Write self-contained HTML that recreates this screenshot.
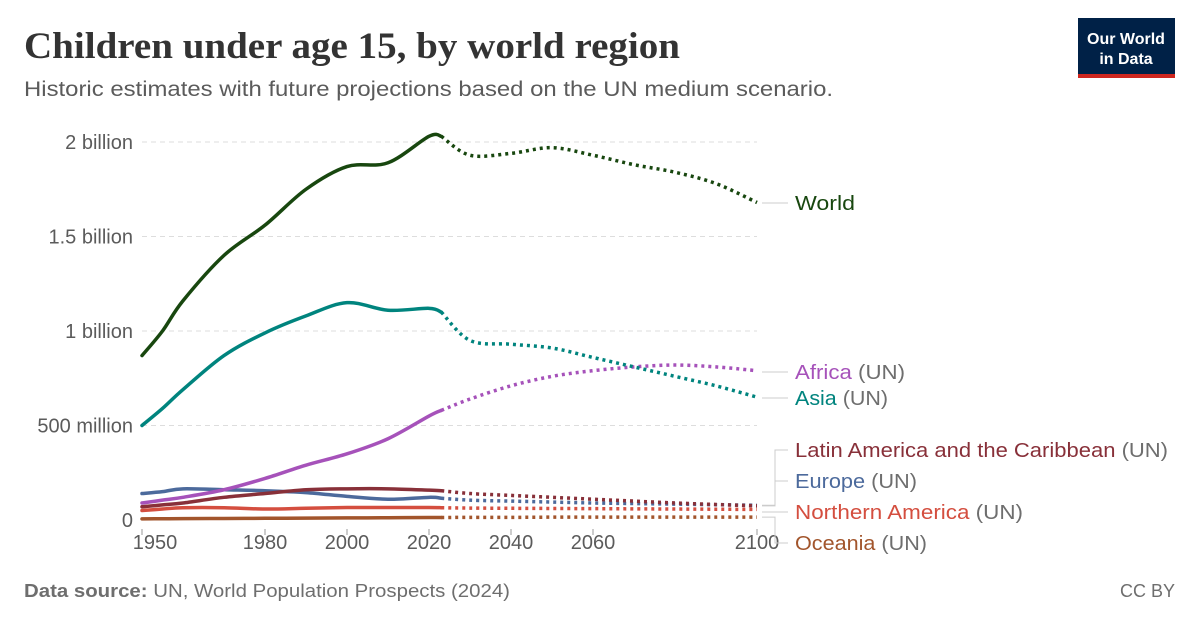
<!DOCTYPE html>
<html><head><meta charset="utf-8"><style>
body{margin:0;background:#fff;width:1200px;height:627px;overflow:hidden;font-family:"Liberation Sans",sans-serif}
svg{display:block}
</style></head><body>
<svg id="chart" width="1200" height="627">
<text x="24" y="58" font-family="Liberation Serif,serif" font-size="37" fill="#333" font-weight="bold" textLength="656" lengthAdjust="spacingAndGlyphs">Children under age 15, by world region</text>
<text x="24" y="96" font-size="21" fill="#5b5b5b" textLength="809" lengthAdjust="spacingAndGlyphs">Historic estimates with future projections based on the UN medium scenario.</text>
<g>
<rect x="1078" y="18" width="97" height="57" fill="#002147"/>
<rect x="1078" y="74" width="97" height="4" fill="#ce261e"/>
<text x="1126" y="44" text-anchor="middle" fill="#fff" font-size="16" font-weight="bold">Our World</text>
<text x="1126" y="64" text-anchor="middle" fill="#fff" font-size="16" font-weight="bold">in Data</text>
</g>
<g id="grid"></g><g id="xaxis"></g><g id="series"></g><g id="labels"></g>
<text x="24" y="597" font-size="18" fill="#6e6e6e" textLength="486" lengthAdjust="spacingAndGlyphs"><tspan font-weight="bold">Data source:</tspan> UN, World Population Prospects (2024)</text>
<text x="1175" y="597" font-size="18" fill="#6e6e6e" text-anchor="end">CC BY</text>
</svg>
<script>
const yTicks=[0,0.5,1,1.5,2];
const yTickLabels=["0","500 million","1 billion","1.5 billion","2 billion"];
const xTicks=[1950,1980,2000,2020,2040,2060,2100];
const years=[1950,1955,1960,1970,1980,1990,2000,2010,2020,2023,2030,2040,2050,2060,2070,2080,2090,2100];
const world=[0.87,1.00,1.16,1.40,1.56,1.75,1.87,1.89,2.03,2.03,1.93,1.94,1.97,1.93,1.88,1.84,1.78,1.68];
const asia=[0.50,0.59,0.69,0.87,0.99,1.08,1.15,1.11,1.12,1.10,0.95,0.93,0.91,0.86,0.81,0.76,0.71,0.65];
const africa=[0.09,0.105,0.12,0.16,0.22,0.29,0.35,0.43,0.55,0.58,0.64,0.71,0.76,0.79,0.81,0.82,0.81,0.79];
const europe=[0.14,0.15,0.165,0.16,0.155,0.145,0.125,0.11,0.12,0.115,0.105,0.10,0.095,0.09,0.087,0.084,0.081,0.078];
const latam=[0.07,0.08,0.09,0.12,0.14,0.16,0.165,0.165,0.158,0.155,0.14,0.13,0.12,0.11,0.10,0.09,0.082,0.075];
const namer=[0.05,0.058,0.065,0.065,0.058,0.062,0.066,0.066,0.066,0.065,0.063,0.062,0.061,0.06,0.059,0.058,0.057,0.056];
const oceania=[0.006,0.0065,0.007,0.008,0.009,0.01,0.011,0.012,0.013,0.013,0.014,0.014,0.015,0.015,0.015,0.015,0.015,0.015];
const seriesNames=["oceania","northern-america","europe","latin-america","africa","asia","world"];
const seriesColors=["#a2552c","#d44e3f","#4c6a9c","#883039","#a652ba","#00847e","#18470f"];
const seriesData=[oceania,namer,europe,latam,africa,asia,world];
const lastHist=2023;
const X=y=>142+(y-1950)*4.1;
const Y=v=>520-v*189;
const NS="http://www.w3.org/2000/svg";
function mk(tag,attrs,parent){const e=document.createElementNS(NS,tag);for(const k in attrs)e.setAttribute(k,attrs[k]);parent.appendChild(e);return e;}
const grid=document.getElementById('grid');
yTicks.forEach((t,i)=>{
 if(t>0){const l=mk('line',{x1:142,x2:757,y1:Y(t),y2:Y(t),stroke:'#ddd','stroke-dasharray':'5,4'},grid);
 
 }
 const tx=mk('text',{x:133,y:Y(t)+7,'text-anchor':'end','font-size':20,fill:'#5b5b5b'},grid);tx.textContent=yTickLabels[i];
 
 
});
const xa=document.getElementById('xaxis');
xTicks.forEach(t=>{
 mk('line',{x1:X(t),x2:X(t),y1:529,y2:535,stroke:'#999'},xa);
 const tx=mk('text',{x:t===1950?X(t)+13:X(t),y:549,'text-anchor':'middle','font-size':20,fill:'#5b5b5b'},xa);tx.textContent=t;
 
 
});
function smooth(pts){let d='M'+pts[0][0]+','+pts[0][1];
 for(let i=0;i<pts.length-1;i++){const p0=pts[i-1]||pts[i],p1=pts[i],p2=pts[i+1],p3=pts[i+2]||p2;
 const c1=[p1[0]+(p2[0]-p0[0])/6,p1[1]+(p2[1]-p0[1])/6],c2=[p2[0]-(p3[0]-p1[0])/6,p2[1]-(p3[1]-p1[1])/6];
 d+=` C${c1[0]},${c1[1]} ${c2[0]},${c2[1]} ${p2[0]},${p2[1]}`;}return d;}
const sg=document.getElementById('series');
seriesData.forEach((vals,si)=>{
 const h=[],p=[];
 years.forEach((yr,i)=>{const pt=[X(yr),Y(vals[i])];if(yr<=lastHist)h.push(pt);if(yr>=lastHist)p.push(pt);});
 const a=mk('path',{d:smooth(h),fill:'none',stroke:seriesColors[si],'stroke-width':3.5,'stroke-linecap':'round'},sg);
 
 
 const b=mk('path',{d:smooth(p),fill:'none',stroke:seriesColors[si],'stroke-width':3.5,'stroke-dasharray':'3,4'},sg);
 
 
});
const lg=document.getElementById('labels');
const labs=[["World","",210,"#18470f",world,60],["Africa"," (UN)",379,"#a652ba",africa,110],["Asia"," (UN)",405,"#00847e",asia,93],
["Latin America and the Caribbean"," (UN)",457,"#883039",latam,373],["Europe"," (UN)",488,"#4c6a9c",europe,122],
["Northern America"," (UN)",519,"#d44e3f",namer,228],["Oceania"," (UN)",550,"#a2552c",oceania,132]];
labs.forEach(l=>{
 const yv=Y(l[4][l[4].length-1]), ty=l[2]-7;
 if(Math.abs(yv-ty)<12){mk('line',{x1:762,x2:788,y1:ty,y2:ty,stroke:'#ccc'},lg);}
 else{mk('path',{d:`M762,${yv} H775 V${ty} H788`,fill:'none',stroke:'#ccc'},lg);}
 const t=mk('text',{x:795,y:l[2],'font-size':20,fill:l[3],textLength:l[5],lengthAdjust:'spacingAndGlyphs'},lg);
 
 
 t.textContent=l[0];
 const s=mk('tspan',{fill:'#6e6e6e'},t);s.textContent=l[1];
});
</script>
</body></html>
